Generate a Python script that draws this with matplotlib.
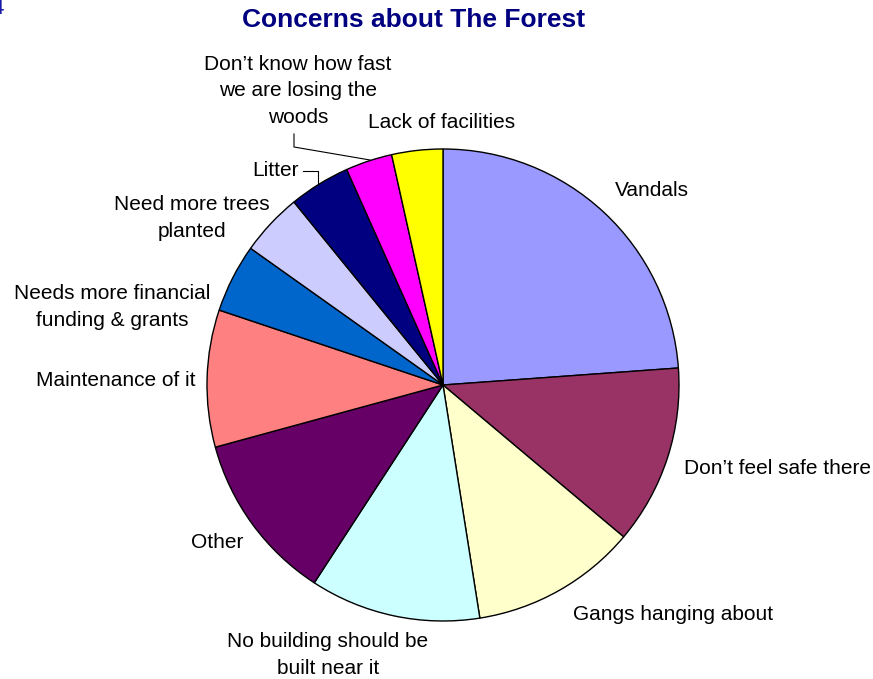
import matplotlib
matplotlib.use("Agg")
import matplotlib.pyplot as plt

plt.rcParams['font.family'] = ['Liberation Sans', 'DejaVu Sans']

# share of responses per concern, clockwise from 12 o'clock
concerns = ["Vandals", "Don\u2019t feel safe there", "Gangs hanging about",
            "No building should be\nbuilt near it", "Other", "Maintenance of it",
            "Needs more financial\nfunding & grants", "Need more trees\nplanted",
            "Litter", "Don\u2019t know how fast\nwe are losing the\nwoods",
            "Lack of facilities"]
shares = [23.9, 12.3, 11.4, 11.7, 11.6, 9.4, 4.7, 4.3, 4.2, 3.2, 3.5]
colors = ["#9999FF", "#993366", "#FFFFCC", "#CCFFFF", "#660066", "#FF8080",
          "#0066CC", "#CCCCFF", "#000080", "#FF00FF", "#FFFF00"]

W, H = 873, 679
fig = plt.figure(figsize=(W / 100, H / 100), dpi=100)
ax = fig.add_axes([0, 0, 1, 1])

cx, cy, r = 443, H - 385, 236
ax.pie(shares, colors=colors, startangle=90, counterclock=False,
       center=(cx, cy), radius=r, frame=True,
       wedgeprops=dict(edgecolor='black', linewidth=1.0))
ax.set_xlim(0, W)
ax.set_ylim(0, H)
ax.set_aspect('equal')
ax.axis('off')

# label centres in pixel coordinates (x, y from top)
label_pos = [(652, 190), (777, 468), (673, 615), (328, 655), (217, 543),
             (116, 380), (112, 307), (192, 218), (276, 171), (298, 91),
             (442, 123)]
for text, (px, py) in zip(concerns, label_pos):
    ax.text(px, H - py, text, ha='center', va='center', fontsize=15,
            linespacing=1.5, color='black')

# leader lines for the two thin slices
ax.plot([303, 318, 318], [H - 171, H - 171, H - 183], color='black', lw=0.8)
ax.plot([294, 294, 370], [H - 134, H - 147, H - 160], color='black', lw=0.8)

ax.text(414, H - 20, "Concerns about The Forest", ha='center',
        va='center', fontsize=19, fontweight='bold', color='#000080')
ax.text(4, H - 9, "4", ha='right', va='center', fontsize=16,
        color='#1A1AA6')

fig.savefig("out.png", dpi=100)
